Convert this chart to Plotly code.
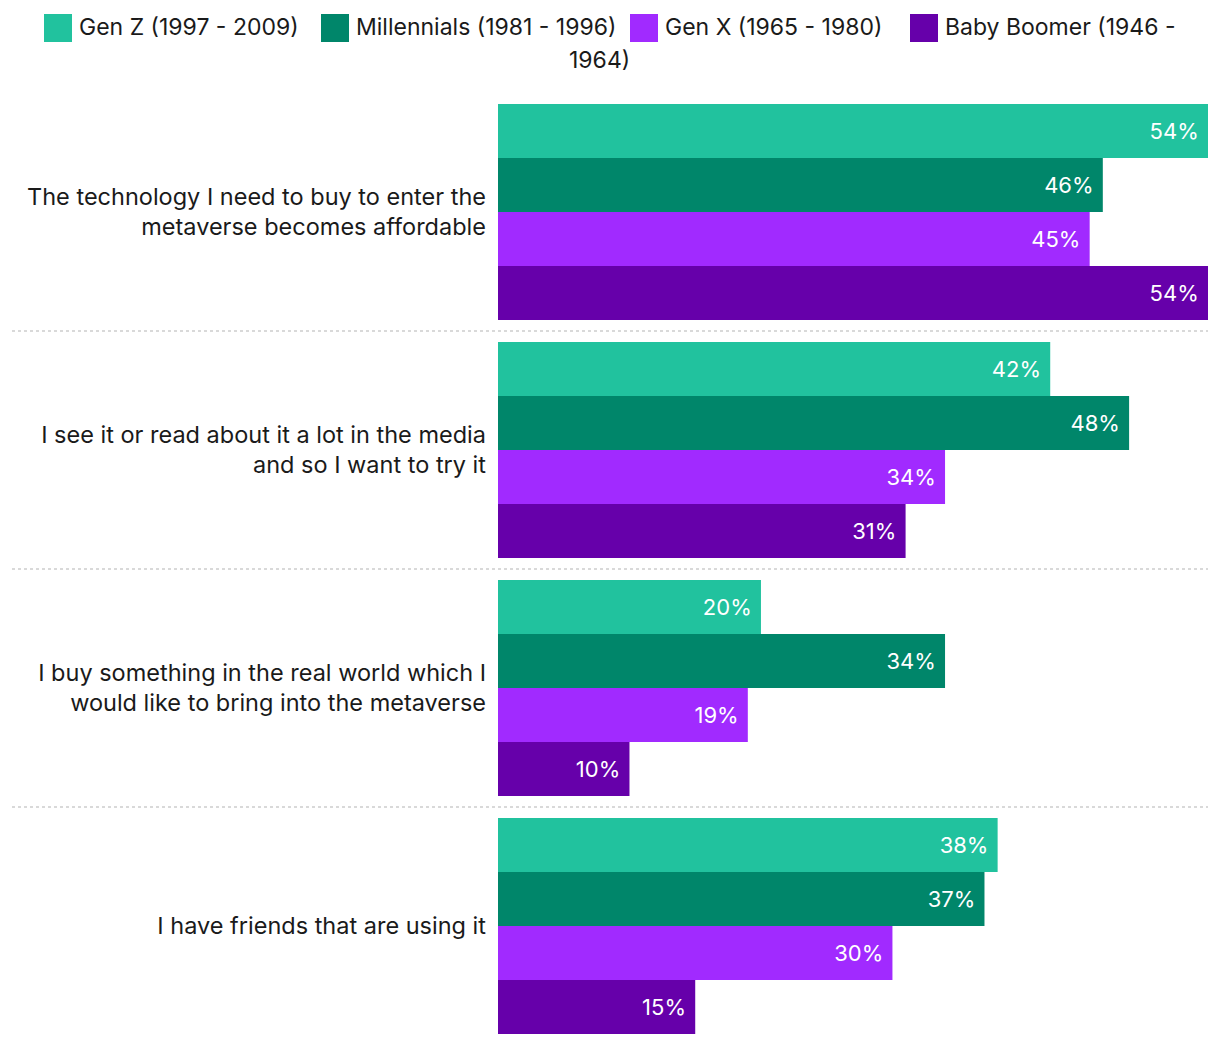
import plotly.graph_objects as go

reasons = [
    "The technology I need to buy to enter the<br>metaverse becomes affordable",
    "I see it or read about it a lot in the media<br>and so I want to try it",
    "I buy something in the real world which I<br>would like to bring into the metaverse",
    "I have friends that are using it",
]
generations = ["Gen Z (1997 - 2009)", "Millennials (1981 - 1996)", "Gen X (1965 - 1980)", "Baby Boomer (1946 - 1964)"]
gen_z = [54, 42, 20, 38]
millennials = [46, 48, 34, 37]
gen_x = [45, 34, 19, 30]
boomers = [54, 31, 10, 15]
colors = ["#21C29E", "#00866A", "#A12AFF", "#6600AA"]

# page has an 8px body margin, so everything is placed 8px up/left
OFF = 8
W, H = 1220, 1044
L, T = 498 - OFF, 104 - 11 - OFF
pw, ph = 710, 952
R = W - L - pw
B = max(H - T - ph, 0)
font = "Inter, Roboto, sans-serif"
fs = 23.5

fig = go.Figure()
for name, vals, c in zip(generations, [gen_z, millennials, gen_x, boomers], colors):
    fig.add_trace(go.Bar(
        y=reasons, x=vals, name=name, orientation="h", marker_color=c, marker_line_width=0,
        texttemplate="%{x}%\u00a0", textposition="inside", insidetextanchor="end",
        textfont=dict(color="white", size=22, family=font), showlegend=False,
    ))

# dotted separators between groups
for k in range(len(reasons) - 1):
    fig.add_shape(type="line", xref="paper", yref="y", x0=(12 - OFF - L) / pw, x1=1,
                  y0=k + 0.5, y1=k + 0.5, line=dict(color="#d9d9d9", width=2, dash="dot"))


def px(x):
    return (x - OFF - L) / pw


def py(y):
    return 1 + (T - (y - OFF)) / ph


# custom legend laid out like the wrapped html legend
sq_x = [44, 321, 630, 910]
lfs = 23
for i, (name, c) in enumerate(zip(generations, colors)):
    fig.add_shape(type="rect", xref="paper", yref="paper",
                  x0=px(sq_x[i]), x1=px(sq_x[i] + 28), y0=py(14), y1=py(42),
                  fillcolor=c, line_width=0)
    label = name
    if i == len(generations) - 1:
        label, rest = name.rsplit(" ", 1)
        fig.add_annotation(xref="paper", yref="paper", x=px(599), y=py(60),
                           text=rest, showarrow=False, xanchor="center", yanchor="middle",
                           font=dict(size=lfs, color="#1a1a1a", family=font))
    fig.add_annotation(xref="paper", yref="paper", x=px(sq_x[i] + 33), y=py(27),
                       text=label, showarrow=False, xanchor="left", yanchor="middle",
                       font=dict(size=lfs, color="#1a1a1a", family=font))

fig.update_layout(
    width=W, height=H, margin=dict(l=L, r=R, t=T, b=B),
    barmode="group", bargap=22 / 238, bargroupgap=0,
    plot_bgcolor="white", paper_bgcolor="white",
    font=dict(family=font, size=fs, color="#1a1a1a"),
)
fig.update_xaxes(range=[0, 54], visible=False, fixedrange=True)
fig.update_yaxes(autorange="reversed", showgrid=False, showline=False, ticks="", ticklabelstandoff=11,
                 tickfont=dict(size=fs, color="#1a1a1a", family=font))

fig.write_html("out.html")
